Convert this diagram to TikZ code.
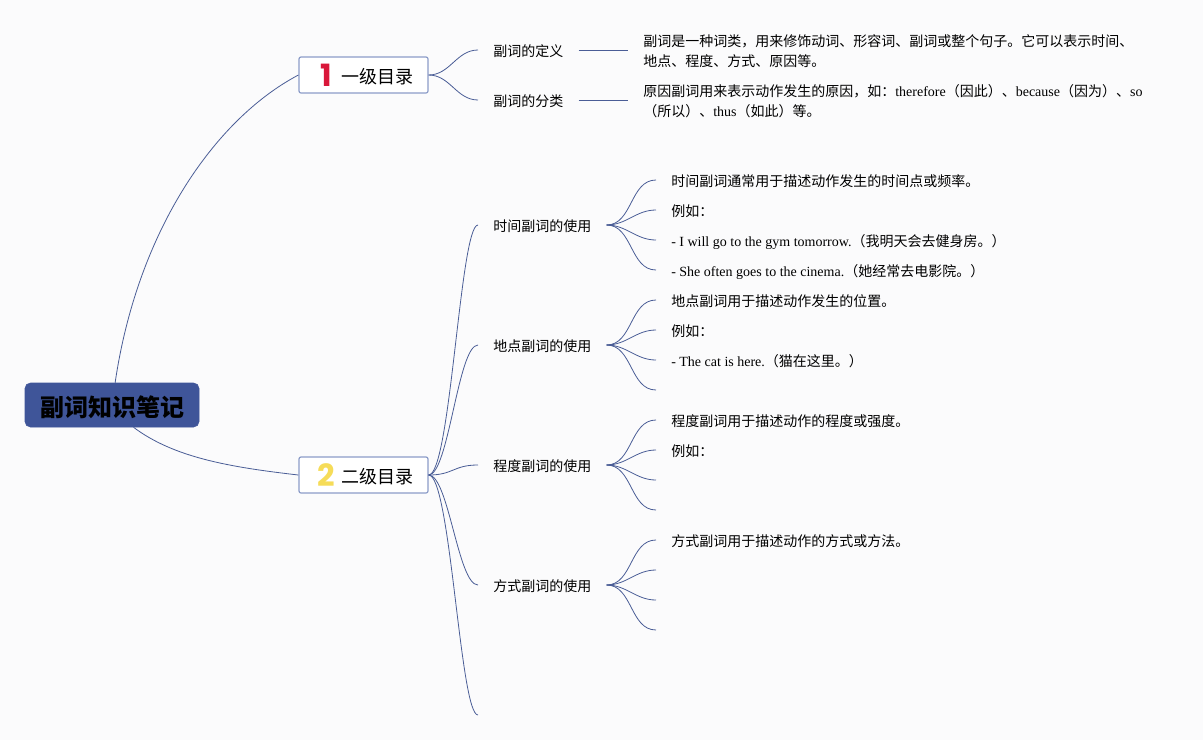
\documentclass[tikz,border=0pt]{standalone}
\usepackage{fontspec}
\setmainfont{Liberation Serif}
\newfontfamily\cjk{Noto Sans CJK SC}
\newfontfamily\iconfont{Poppins}
\newcommand{\zh}[1]{{\cjk #1}}
\newcommand{\badge}[2]{\makebox[18pt][c]{\smash{\raisebox{-2pt}{\iconfont\bfseries\fontsize{23}{23}\selectfont\textcolor{#1}{#2}}}}}
\newcommand{\qcomma}{^^^^ff0c}
\newcommand{\qcolon}{^^^^ff1a}
\newcommand{\qopen}{^^^^ff08}
\newcommand{\qclose}{^^^^ff09}
\definecolor{pagebg}{HTML}{FBFBFC}
\definecolor{linkblue}{HTML}{4A5D96}
\definecolor{boxblue}{HTML}{8C9CC8}
\definecolor{rootblue}{HTML}{3F5599}
\definecolor{onered}{HTML}{D9173A}
\definecolor{twoyellow}{HTML}{F6DC58}

\begin{document}
\begin{tikzpicture}[x=0.75pt, y=-0.75pt]
  % Hintergrund.
  \fill[pagebg] (0, 0) rectangle (1203, 740);
  \useasboundingbox (0, 0) rectangle (1203, 740);

  \tikzstyle{root}=[rectangle, rounded corners=4pt, fill=rootblue, draw=rootblue, minimum width=130.5pt, minimum height=33pt, inner sep=0pt, text height=16.6pt, text depth=0pt, font=\cjk\bfseries\fontsize{18}{18}\selectfont]
  \tikzstyle{topic}=[rectangle, rounded corners=1.5pt, fill=white, draw=boxblue, line width=0.9pt, minimum width=96.75pt, minimum height=27pt, inner sep=0pt, text height=13pt, text depth=0pt, font=\cjk\fontsize{13.5}{16}\selectfont]
  \tikzstyle{sub}=[anchor=west, inner xsep=11.25pt, inner ysep=0pt, text height=10pt, text depth=0pt, font=\cjk\fontsize{10.5}{15}\selectfont]
  \tikzstyle{leaf}=[anchor=west, inner xsep=11.25pt, inner ysep=0pt, text height=10pt, text depth=0pt, font=\fontsize{10.5}{15}\selectfont]
  \tikzstyle{note}=[anchor=west, inner xsep=11.25pt, inner ysep=0pt, align=left, font=\fontsize{10.5}{15}\selectfont]
  \tikzstyle{twig}=[draw=linkblue, line width=0.6pt]

  % Zentrum und Hauptzweige.
  \node[root] (root) at (112, 405) {副词知识笔记};
  \node[topic] (topA) at (363.5, 75) {\badge{onered}{1}\hspace{2.25pt}一级目录};
  \node[topic] (topB) at (363.5, 475) {\badge{twoyellow}{2}\hspace{2.25pt}二级目录};

  % Erste Ebene.
  \node[sub] (defn) at (478, 50) {副词的定义};
  \node[sub] (kind) at (478, 100) {副词的分类};
  \node[sub] (time) at (478, 225) {时间副词的使用};
  \node[sub] (place) at (478, 345) {地点副词的使用};
  \node[sub] (degree) at (478, 465) {程度副词的使用};
  \node[sub] (manner) at (478, 585) {方式副词的使用};
  \coordinate (extra) at (478, 715);

  % Texte.
  \node[note] (defnText) at (628, 51.5) {\zh{副词是一种词类\qcomma 用来修饰动词、形容词、副词或整个句子。它可以表示时间、}\\\zh{地点、程度、方式、原因等。}};
  \node[note] (kindText) at (628, 101.5) {\zh{原因副词用来表示动作发生的原因\qcomma 如\qcolon}therefore\zh{\qopen 因此\qclose 、}because\zh{\qopen 因为\qclose 、}so\\\zh{\qopen 所以\qclose 、}thus\zh{\qopen 如此\qclose 等。}};

  \node[leaf] (timeA) at (656, 180) {\zh{时间副词通常用于描述动作发生的时间点或频率。}};
  \node[leaf] (timeB) at (656, 210) {\zh{例如\qcolon}};
  \node[leaf] (timeC) at (656, 240) {- I will go to the gym tomorrow.\zh{\qopen 我明天会去健身房。\qclose}};
  \node[leaf] (timeD) at (656, 270) {- She often goes to the cinema.\zh{\qopen 她经常去电影院。\qclose}};

  \node[leaf] (placeA) at (656, 300) {\zh{地点副词用于描述动作发生的位置。}};
  \node[leaf] (placeB) at (656, 330) {\zh{例如\qcolon}};
  \node[leaf] (placeC) at (656, 360) {- The cat is here.\zh{\qopen 猫在这里。\qclose}};
  \coordinate (placeD) at (656, 390);

  \node[leaf] (degreeA) at (656, 420) {\zh{程度副词用于描述动作的程度或强度。}};
  \node[leaf] (degreeB) at (656, 450) {\zh{例如\qcolon}};
  \coordinate (degreeC) at (656, 480);
  \coordinate (degreeD) at (656, 510);

  \node[leaf] (mannerA) at (656, 540) {\zh{方式副词用于描述动作的方式或方法。}};
  \coordinate (mannerB) at (656, 570);
  \coordinate (mannerC) at (656, 600);
  \coordinate (mannerD) at (656, 630);

  % Kanten.
  \draw[twig] (root.82) .. controls +(22, -150) and +(-85, 45) .. (topA.west);
  \draw[twig] (root.-46) .. controls +(40, 30) and +(-70, -8) .. (topB.west);

  \path[twig] (topA.east) edge[out=0, in=180] (defn.west);
  \path[twig] (topA.east) edge[out=0, in=180] (kind.west);
  \path[twig] (defn.east) edge (defn.east -| defnText.west);
  \path[twig] (kind.east) edge (kind.east -| kindText.west);

  \draw[twig] (topB.east) .. controls +(22, 0) and +(-18, 0) .. (time.west);
  \draw[twig] (topB.east) .. controls +(20, 0) and +(-20, 0) .. (place.west);
  \draw[twig] (topB.east) .. controls +(25, 0) and +(-25, 0) .. (degree.west);
  \draw[twig] (topB.east) .. controls +(20, 0) and +(-20, 0) .. (manner.west);
  \draw[twig] (topB.east) .. controls +(22, 0) and +(-18, 0) .. (extra);

  \path[twig] (time.east) edge[out=0, in=180] (timeA.west);
  \path[twig] (time.east) edge[out=0, in=180] (timeB.west);
  \path[twig] (time.east) edge[out=0, in=180] (timeC.west);
  \path[twig] (time.east) edge[out=0, in=180] (timeD.west);

  \path[twig] (place.east) edge[out=0, in=180] (placeA.west);
  \path[twig] (place.east) edge[out=0, in=180] (placeB.west);
  \path[twig] (place.east) edge[out=0, in=180] (placeC.west);
  \path[twig] (place.east) edge[out=0, in=180] (placeD);

  \path[twig] (degree.east) edge[out=0, in=180] (degreeA.west);
  \path[twig] (degree.east) edge[out=0, in=180] (degreeB.west);
  \path[twig] (degree.east) edge[out=0, in=180] (degreeC);
  \path[twig] (degree.east) edge[out=0, in=180] (degreeD);

  \path[twig] (manner.east) edge[out=0, in=180] (mannerA.west);
  \path[twig] (manner.east) edge[out=0, in=180] (mannerB);
  \path[twig] (manner.east) edge[out=0, in=180] (mannerC);
  \path[twig] (manner.east) edge[out=0, in=180] (mannerD);
\end{tikzpicture}
\end{document}
